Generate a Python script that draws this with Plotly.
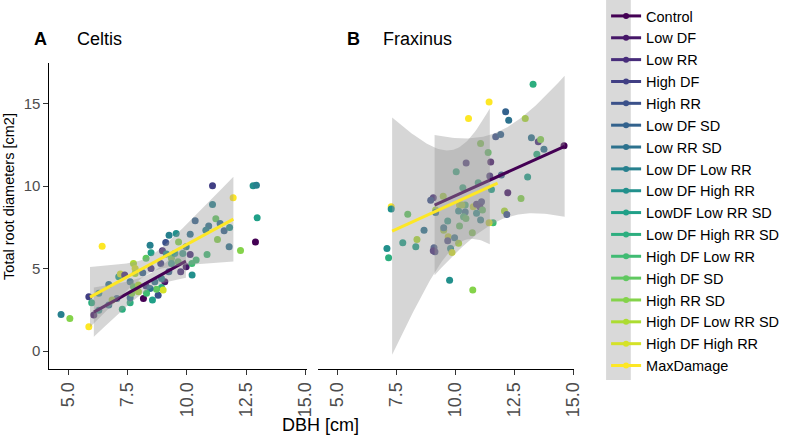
import numpy as np
import plotly.graph_objects as go
from plotly.colors import sample_colorscale

treatments = ["Control", "Low DF", "Low RR", "High DF", "High RR", "Low DF SD", "Low RR SD",
              "Low DF Low RR", "Low DF High RR", "LowDF Low RR SD", "Low DF High RR SD",
              "High DF Low RR", "High DF SD", "High RR SD", "High DF Low RR SD",
              "High DF High RR", "MaxDamage"]

# ---- Celtis points (DBH, root diameters, treatment index) ----
celtis_dbh = [4.70, 5.07, 5.87, 5.87, 5.99, 6.43, 6.08, 11.08, 11.95, 12.79, 12.93, 12.96, 12.89, 12.26,
              11.08, 11.22, 10.35, 10.14, 10.92, 10.80, 11.29, 11.40, 11.57, 11.80, 11.78, 10.85, 10.22,
              10.39, 10.14, 9.97, 9.74, 9.55, 9.25, 9.11, 9.65, 8.97, 8.90, 8.45, 8.49, 8.28, 7.75, 7.82,
              8.14, 8.49, 9.07, 8.93, 8.65, 8.17, 8.55, 8.79, 8.93, 9.00, 8.72, 7.28, 7.61, 7.61, 7.05,
              6.71, 6.29, 6.85, 6.71, 7.13, 7.20, 7.38, 7.61, 7.75, 7.68, 7.96, 7.96, 7.82, 8.28, 8.45,
              8.30, 6.29, 9.14, 9.35, 9.49, 9.83, 9.97, 10.21, 9.63, 9.35, 9.24]
celtis_root = [2.22, 1.98, 1.47, 3.29, 2.93, 6.36, 2.18, 10.02, 9.29, 10.02, 10.06, 8.08, 6.62, 6.10,
               8.89, 8.02, 7.90, 7.09, 7.58, 7.33, 6.77, 7.74, 7.29, 7.50, 6.32, 5.86, 4.61,
               5.52, 5.86, 5.11, 4.81, 7.13, 7.03, 6.59, 6.62, 6.08, 5.31, 6.42, 5.96, 5.62, 5.31, 5.01,
               4.75, 5.01, 4.20, 4.40, 4.20, 3.19, 3.09, 3.39, 3.86, 3.70, 3.74, 2.53, 2.93, 3.23, 3.19,
               2.79, 2.48, 3.09, 4.04, 4.50, 4.67, 4.61, 4.20, 3.90, 3.50, 3.60, 4.00, 4.71, 3.94, 3.80,
               3.50, 3.50, 5.88, 5.62, 5.92, 5.92, 6.32, 5.31, 5.41, 5.31, 4.81]
celtis_trt = [7, 13, 16, 3, 10, 16, 1, 3, 16, 8, 7, 9, 0, 13,
              7, 12, 5, 6, 6, 7, 13, 6, 5, 8, 6, 11, 8,
              11, 2, 1, 2, 8, 7, 4, 13, 2, 3, 7, 9, 12, 14, 15,
              5, 2, 1, 7, 6, 0, 9, 4, 10, 15, 12, 10, 10, 6, 5,
              6, 8, 14, 6, 9, 15, 2, 6, 12, 13, 14, 14, 14, 3, 6,
              11, 8, 8, 13, 9, 9, 7, 11, 12, 9, 5]

# ---- Fraxinus points ----
frax_dbh = [13.29, 11.43, 10.56, 12.13, 12.26, 12.96, 11.71, 11.92, 13.22, 13.51, 13.61, 13.75, 13.45,
            14.60, 13.06, 11.07, 11.39, 10.46, 11.50, 10.04, 11.46, 11.95, 10.97, 11.53, 10.32, 12.22,
            12.78, 12.08, 12.18, 11.60, 11.43, 9.07, 8.96, 9.49, 9.17, 9.17, 10.18, 10.42, 10.14, 10.42,
            10.35, 10.45, 10.76, 10.90, 11.11, 11.04, 11.15, 11.07, 10.90, 9.68, 8.68, 7.99, 7.29, 7.29,
            7.78, 8.38, 8.33, 7.11, 7.18, 9.51, 9.51, 9.70, 9.68, 9.97, 10.14, 10.18, 10.72, 9.10, 9.14,
            9.07, 9.80, 9.86, 9.76, 10.74, 10.28]
frax_root = [16.18, 15.11, 14.10, 14.51, 14.00, 14.10, 12.99, 13.13, 12.93, 12.69, 12.83, 12.24, 11.94,
             12.45, 10.56, 12.59, 12.04, 11.41, 11.47, 10.87, 10.61, 10.67, 10.20, 9.80, 9.90, 9.60,
             9.25, 8.50, 8.28, 7.78, 7.78, 9.29, 9.15, 9.39, 8.55, 8.40, 8.85, 8.85, 8.50, 8.44,
             8.14, 8.04, 8.75, 8.91, 9.05, 8.75, 8.55, 7.94, 8.35, 7.88, 7.33, 8.30, 8.75, 8.61,
             6.56, 6.77, 6.32, 6.22, 5.66, 7.33, 7.47, 6.93, 6.69, 6.87, 6.53, 7.59, 7.17, 6.26, 6.02,
             6.08, 6.22, 5.98, 4.30, 3.70, 8.85]
frax_trt = [10, 16, 16, 5, 6, 14, 4, 5, 6, 2, 13, 6, 10,
            0, 9, 13, 12, 2, 1, 10, 2, 5, 10, 9, 10, 1,
            13, 14, 4, 11, 15, 2, 4, 14, 14, 6, 15, 11, 8, 6,
            11, 12, 15, 2, 3, 2, 12, 7, 8, 9, 6, 12, 16, 8,
            9, 14, 9, 8, 10, 14, 6, 15, 3, 6, 14, 12, 13, 4, 3,
            2, 8, 15, 8, 13, 14]

# ---- fitted lines (lm smooths) and confidence bands ----
fit_panel = ["Celtis", "Celtis", "Fraxinus", "Fraxinus"]
fit_trt = [0, 16, 0, 16]
fit_x = [[6.08, 9.96], [5.92, 11.96], [9.125, 14.625], [7.33, 11.79]]
fit_y = [[2.36, 5.45], [3.27, 8.00], [8.85, 12.42], [7.27, 10.18]]
band_x = [[6.08, 9.96], [5.92, 11.96], [9.125, 14.625], [7.33, 11.46]]
band_mid = [[2.36, 5.45], [3.27, 8.00], [8.85, 12.42], [6.97, 10.60]]
band_min_hw = [0.45, 0.50, 2.70, 2.90]
band_slope = [0.60, 0.71, 1.20, 2.30]
band_center = [8.46, 8.40, 11.86, 10.19]

colors = sample_colorscale("Viridis", [i / 16 for i in range(17)])

FONT = "Liberation Sans, Arial, sans-serif"
W, H = 798, 437


def fx(px):
    return px / W


def fy(py):
    return 1 - py / H


fig = go.Figure()
axes = {"Celtis": ("x", "y"), "Fraxinus": ("x2", "y2")}
fig.add_trace(go.Scatter(x=celtis_dbh, y=celtis_root, mode="markers", xaxis="x", yaxis="y",
                         marker=dict(size=7, color=[colors[t] for t in celtis_trt]),
                         showlegend=False, hoverinfo="skip"))
fig.add_trace(go.Scatter(x=frax_dbh, y=frax_root, mode="markers", xaxis="x2", yaxis="y2",
                         marker=dict(size=7, color=[colors[t] for t in frax_trt]),
                         showlegend=False, hoverinfo="skip"))

for i in range(len(fit_panel)):
    xa, ya = axes[fit_panel[i]]
    bx = np.linspace(band_x[i][0], band_x[i][1], 60)
    mid = np.interp(bx, band_x[i], band_mid[i])
    hw = np.sqrt(band_min_hw[i] ** 2 + (band_slope[i] * (bx - band_center[i])) ** 2)
    poly_x = np.concatenate([bx, bx[::-1]])
    poly_y = np.concatenate([mid + hw, (mid - hw)[::-1]])
    fig.add_trace(go.Scatter(x=poly_x, y=poly_y, mode="lines", fill="toself",
                             fillcolor="rgba(153,153,153,0.4)", line=dict(width=0),
                             xaxis=xa, yaxis=ya, showlegend=False, hoverinfo="skip"))
    fig.add_trace(go.Scatter(x=fit_x[i], y=fit_y[i], mode="lines",
                             line=dict(color=colors[fit_trt[i]], width=3),
                             xaxis=xa, yaxis=ya, showlegend=False, hoverinfo="skip"))

for i, name in enumerate(treatments):
    fig.add_trace(go.Scatter(x=[None], y=[None], mode="lines+markers", name=name,
                             line=dict(color=colors[i], width=3),
                             marker=dict(color=colors[i], size=6)))

xrange = [4.21, 15.04]
yrange = [-1.09, 17.47]
xtickfont = dict(family=FONT, size=18, color="#4d4d4d")
ytickfont = dict(family=FONT, size=15, color="#4d4d4d")
common_x = dict(range=xrange, tickvals=[5, 7.5, 10, 12.5, 15],
                ticktext=["5.0", "7.5", "10.0", "12.5", "15.0"], tickangle=-90,
                showline=True, linecolor="black", linewidth=1, ticks="outside",
                ticklen=5, tickcolor="#333333", showgrid=False, zeroline=False,
                tickfont=xtickfont)
ydom = [fy(369), fy(63)]

fig.update_layout(
    width=W, height=H, margin=dict(l=0, r=0, t=0, b=0),
    paper_bgcolor="white", plot_bgcolor="white",
    font=dict(family=FONT, size=15, color="black"),
    xaxis=dict(domain=[fx(50), fx(310)], anchor="y", **common_x),
    xaxis2=dict(domain=[fx(322), fx(581)], anchor="y2", **common_x),
    yaxis=dict(domain=ydom, range=yrange, tickvals=[0, 5, 10, 15], showline=True,
               linecolor="black", linewidth=1, ticks="outside", ticklen=5, tickcolor="#333333",
               showgrid=False, zeroline=False, tickfont=ytickfont, anchor="x"),
    yaxis2=dict(domain=ydom, range=yrange, showline=False, showticklabels=False,
                ticks="", showgrid=False, zeroline=False, anchor="x2"),
    legend=dict(x=fx(613), xanchor="left", y=1.0, yanchor="top",
                bgcolor="rgba(0,0,0,0)", itemwidth=30,
                font=dict(family=FONT, size=14.5, color="black")),
    shapes=[dict(type="rect", xref="paper", yref="paper", layer="below",
                 x0=fx(613), x1=fx(638), y0=fy(380), y1=fy(0),
                 fillcolor="#d9d9d9", line=dict(width=0))],
    annotations=[
        dict(text="<b>A</b>", xref="paper", yref="paper", x=fx(32), y=fy(39),
             xanchor="left", yanchor="middle", showarrow=False, font=dict(family=FONT, size=18)),
        dict(text="Celtis", xref="paper", yref="paper", x=fx(76), y=fy(39),
             xanchor="left", yanchor="middle", showarrow=False, font=dict(family=FONT, size=18)),
        dict(text="<b>B</b>", xref="paper", yref="paper", x=fx(349), y=fy(39),
             xanchor="left", yanchor="middle", showarrow=False, font=dict(family=FONT, size=18)),
        dict(text="Fraxinus", xref="paper", yref="paper", x=fx(385), y=fy(39),
             xanchor="left", yanchor="middle", showarrow=False, font=dict(family=FONT, size=18)),
        dict(text="DBH [cm]", xref="paper", yref="paper", x=fx(324), y=fy(425),
             xanchor="center", yanchor="middle", showarrow=False,
             font=dict(family=FONT, size=18, color="black")),
        dict(text="Total root diameters [cm2]", xref="paper", yref="paper", x=fx(9), y=fy(196),
             xanchor="center", yanchor="middle", textangle=-90, showarrow=False,
             font=dict(family=FONT, size=14.5, color="black")),
    ],
)

fig.write_html("out.html", config={"displayModeBar": False},
               post_script="document.body.style.margin='0px';"
                           "document.body.style.overflow='hidden';")
